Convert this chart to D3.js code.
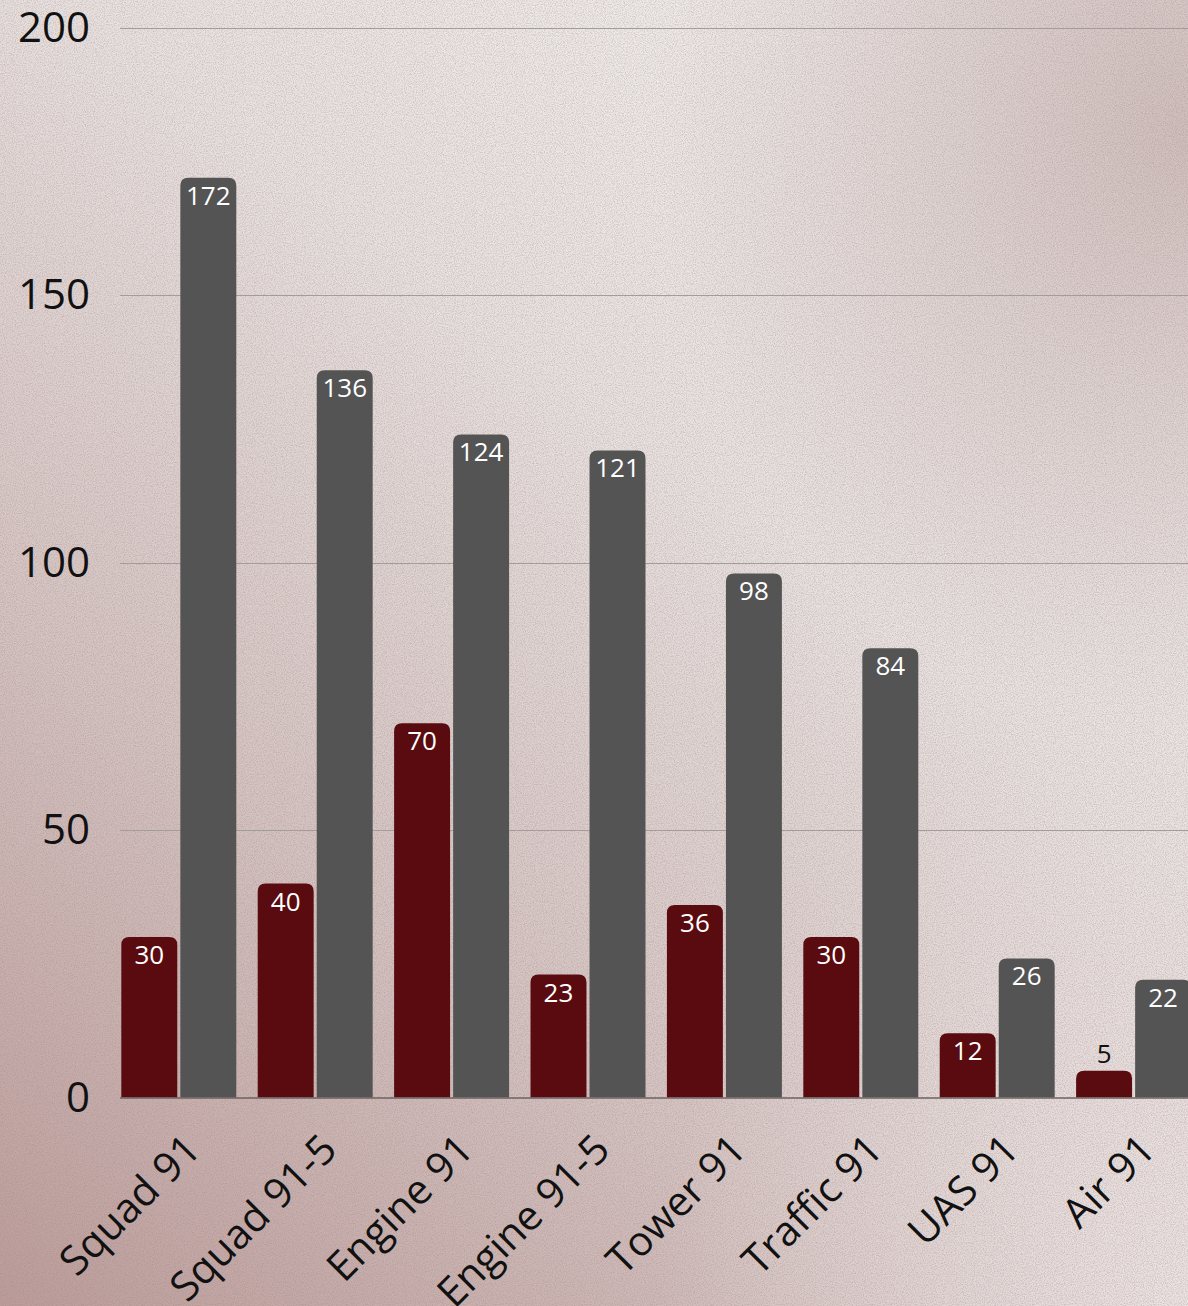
<!DOCTYPE html>
<html>
<head>
<meta charset="utf-8">
<script src="https://cdn.jsdelivr.net/npm/d3@7"></script>
<style>
  html, body { margin: 0; padding: 0; background: #e6dedc; }
  svg { display: block; }
</style>
</head>
<body>
<svg id="chart" width="1188" height="1306"></svg>
<script>
const categories = ["Squad 91", "Squad 91-5", "Engine 91", "Engine 91-5", "Tower 91", "Traffic 91", "UAS 91", "Air 91"];
const seriesNames = ["A", "B"];
const seriesA = [30, 40, 70, 23, 36, 30, 12, 5];
const seriesB = [172, 136, 124, 121, 98, 84, 26, 22];
const yTicks = [0, 50, 100, 150, 200];

const W = 1188, H = 1306;
const svg = d3.select("#chart");
const defs = svg.append("defs");

// Background gradients
const lg = defs.append("linearGradient").attr("id", "bgLin")
  .attr("x1", "0%").attr("y1", "100%").attr("x2", "70%").attr("y2", "0%");
lg.append("stop").attr("offset", "0%").attr("stop-color", "#bb9d9b");
lg.append("stop").attr("offset", "35%").attr("stop-color", "#d3c3c1");
lg.append("stop").attr("offset", "70%").attr("stop-color", "#e7e2e0");
lg.append("stop").attr("offset", "100%").attr("stop-color", "#efedeb");

const rgTR = defs.append("radialGradient").attr("id", "bgTR")
  .attr("cx", "100%").attr("cy", "10%").attr("r", "45%");
rgTR.append("stop").attr("offset", "0%").attr("stop-color", "#c8b6b4").attr("stop-opacity", 0.85);
rgTR.append("stop").attr("offset", "100%").attr("stop-color", "#c8b6b4").attr("stop-opacity", 0);

const rgBR = defs.append("radialGradient").attr("id", "bgBR")
  .attr("cx", "100%").attr("cy", "100%").attr("r", "45%");
rgBR.append("stop").attr("offset", "0%").attr("stop-color", "#ece6e5").attr("stop-opacity", 0.9);
rgBR.append("stop").attr("offset", "100%").attr("stop-color", "#ece6e5").attr("stop-opacity", 0);

const grain = defs.append("filter").attr("id", "grain")
  .attr("x", 0).attr("y", 0).attr("width", "100%").attr("height", "100%");
grain.append("feTurbulence").attr("type", "fractalNoise").attr("baseFrequency", 0.9)
  .attr("numOctaves", 2).attr("seed", 3).attr("result", "n");
grain.append("feColorMatrix").attr("type", "matrix")
  .attr("values", "0 0 0 0 0.35  0 0 0 0 0.2  0 0 0 0 0.2  0 0 0 -2.2 1.35");

svg.append("rect").attr("width", W).attr("height", H).attr("fill", "url(#bgLin)");
svg.append("rect").attr("width", W).attr("height", H).attr("fill", "url(#bgTR)");
svg.append("rect").attr("width", W).attr("height", H).attr("fill", "url(#bgBR)");
svg.append("rect").attr("width", W).attr("height", H).attr("filter", "url(#grain)").attr("opacity", 0.35);

// Scales
const y = d3.scaleLinear().domain([0, 200]).range([1097.5, 28]);
const x0 = d3.scaleBand().domain(categories).range([110.6, 1201.8])
  .paddingInner(0.157).paddingOuter(0.0785);
const x1 = d3.scaleBand().domain(seriesNames).range([0, x0.bandwidth()]).paddingInner(0.052);
const colors = { A: "#5a0b0f", B: "#545454" };
const font = "'Open Sans', sans-serif";

// Gridlines
svg.append("g").selectAll("line").data(yTicks.filter(d => d > 0)).join("line")
  .attr("x1", 120).attr("x2", W)
  .attr("y1", d => Math.round(y(d)) + 0.5).attr("y2", d => Math.round(y(d)) + 0.5)
  .attr("stroke", "#a39c9b").attr("stroke-width", 1.2);

// Y tick labels
svg.append("g").selectAll("text").data(yTicks).join("text")
  .attr("x", 90).attr("y", d => y(d) + 14)
  .attr("text-anchor", "end")
  .attr("font-family", font).attr("font-size", 42).attr("fill", "#111")
  .text(d => d);

// Bars
function topRounded(x, yTop, w, h, r) {
  r = Math.min(r, h, w / 2);
  return `M${x},${yTop + h}V${yTop + r}Q${x},${yTop} ${x + r},${yTop}H${x + w - r}Q${x + w},${yTop} ${x + w},${yTop + r}V${yTop + h}Z`;
}
const rows = categories.map((c, i) => ({ cat: c, vals: [{ s: "A", v: seriesA[i] }, { s: "B", v: seriesB[i] }] }));
const groups = svg.append("g").selectAll("g").data(rows).join("g")
  .attr("transform", d => `translate(${x0(d.cat)},0)`);
groups.selectAll("path").data(d => d.vals).join("path")
  .attr("d", d => topRounded(x1(d.s), y(d.v), x1.bandwidth(), y(0) - y(d.v), 8))
  .attr("fill", d => colors[d.s]);
groups.selectAll("text").data(d => d.vals).join("text")
  .attr("x", d => x1(d.s) + x1.bandwidth() / 2)
  .attr("y", d => (y(0) - y(d.v)) > 34 ? y(d.v) + 17 : y(d.v) - 18)
  .attr("text-anchor", "middle").attr("dominant-baseline", "central")
  .attr("font-family", font).attr("font-size", 26)
  .attr("fill", d => (y(0) - y(d.v)) > 34 ? "#ffffff" : "#111")
  .text(d => d.v);

// Axis line
svg.append("line").attr("x1", 120).attr("x2", W).attr("y1", y(0) + 0.5).attr("y2", y(0) + 0.5)
  .attr("stroke", "#6b6262").attr("stroke-width", 1.5);

// Category labels
svg.append("g").selectAll("text").data(categories).join("text")
  .attr("transform", d => `translate(${x0(d) + x0.bandwidth() / 2 + 24},${1152}) rotate(-45)`)
  .attr("text-anchor", "end")
  .attr("font-family", font).attr("font-size", 41).attr("fill", "#111")
  .text(d => d);
</script>
</body>
</html>
